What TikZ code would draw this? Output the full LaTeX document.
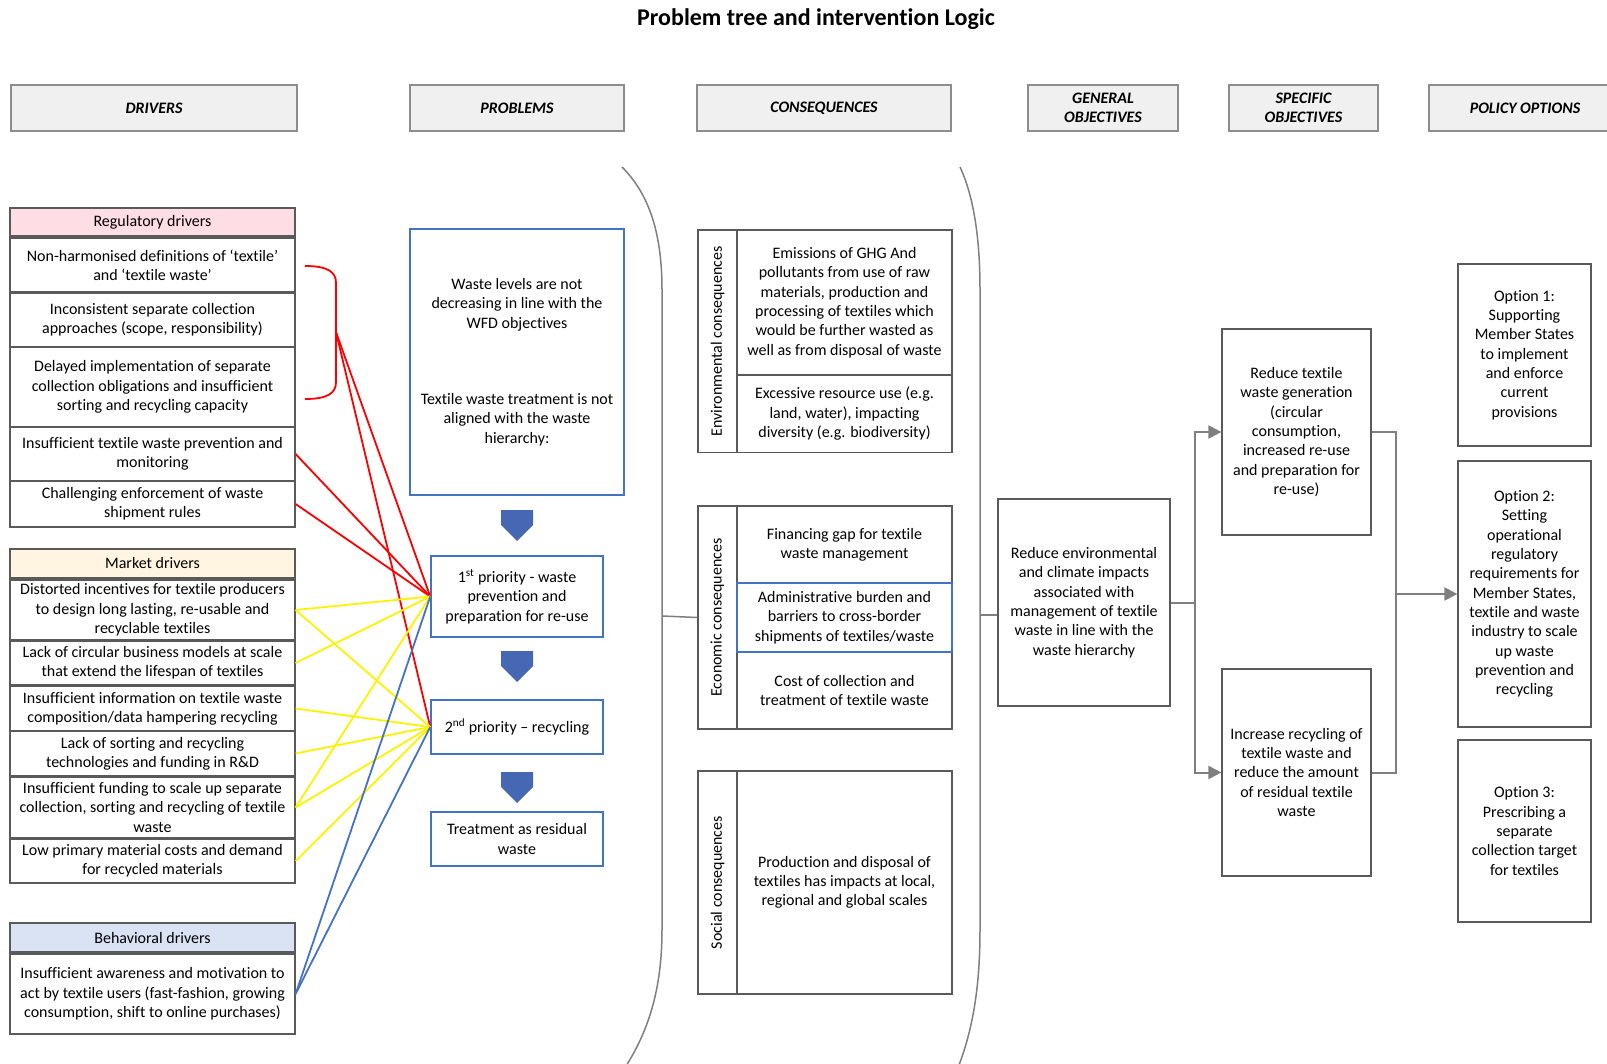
\documentclass[tikz,border=0pt]{standalone}
\usepackage{fontspec}
\setmainfont{Carlito}[Ligatures=NoCommon]
\usepackage{tikz}
\usetikzlibrary{arrows.meta}
\definecolor{hdrgray}{RGB}{240, 240, 240}
\definecolor{edgegray}{RGB}{140, 140, 140}
\definecolor{boxedge}{RGB}{90, 90, 90}
\definecolor{regpink}{RGB}{255, 221, 228}
\definecolor{mktcream}{RGB}{255, 245, 225}
\definecolor{behblue}{RGB}{218, 227, 243}
\definecolor{pblue}{RGB}{68, 114, 196}
\definecolor{darrow}{RGB}{70, 104, 180}
\definecolor{lgray}{RGB}{127, 127, 127}
\newcommand{\txtfont}{\fontsize{16}{19.3}\selectfont}
\tikzset{headline/.style = {font=\fontsize{24}{28}\selectfont\bfseries, inner sep=0}}
\tikzset{hdr/.style = {draw=edgegray, fill=hdrgray, line width=1.5, minimum height=46, inner sep=0,
                       align=center, font=\fontsize{16}{19}\selectfont\bfseries\itshape}}
\tikzset{drv/.style = {draw=boxedge, fill=white, line width=1.2, minimum width=285, inner sep=0,
                       align=center, font=\txtfont}}
\tikzset{prob/.style = {draw=pblue, fill=white, line width=1.5, inner sep=0, align=center, font=\txtfont}}
\tikzset{cons/.style = {draw=boxedge, line width=1.2, minimum width=215, inner sep=0, align=center, font=\txtfont}}
\tikzset{lblbox/.style = {draw=boxedge, line width=1.2, minimum width=39, inner sep=0}}
\tikzset{obj/.style = {draw=boxedge, line width=1.2, inner sep=0, align=center, font=\txtfont}}
\tikzset{redline/.style = {draw=red, line width=1.8}}
\tikzset{yelline/.style = {draw=yellow, line width=1.8}}
\tikzset{bluline/.style = {draw=pblue, line width=1.8}}
\tikzset{arcline/.style = {draw=lgray, line width=1.5}}
\tikzset{objline/.style = {draw=lgray, line width=2}}
\tikzset{objarrow/.style = {objline, -{Triangle[length=13pt, width=13pt]}}}

\begin{document}
\begin{tikzpicture}[x=1pt, y=-1pt]
      \useasboundingbox (0, 0) rectangle (1607, 1064);
      \node [headline] (ttl) at (816, 19) {Problem tree and intervention Logic};

      \node [hdr, minimum width=286] (hdrv) at (154, 108) {DRIVERS};
      \node [hdr, minimum width=214] (hprb) at (517, 108) {PROBLEMS};
      \node [hdr, minimum width=254] (hcon) at (824, 108) {CONSEQUENCES};
      \node [hdr, minimum width=150] (hgen) at (1103, 108) {GENERAL\\OBJECTIVES};
      \node [hdr, minimum width=149] (hspc) at (1303.5, 108) {SPECIFIC\\OBJECTIVES};
      \node [hdr, minimum width=192] (hpol) at (1525, 108) {POLICY OPTIONS};

      \node [drv, fill=regpink, minimum height=28] (regh) at (152.5, 222) {Regulatory drivers};
      \node [drv, minimum height=54] (reg1) at (152.5, 265) {Non-harmonised definitions of ‘textile’\\and ‘textile waste’};
      \node [drv, minimum height=54] (reg2) at (152.5, 320) {Inconsistent separate collection\\approaches (scope, responsibility)};
      \node [drv, minimum height=80] (reg3) at (152.5, 387) {Delayed implementation of separate\\collection obligations and insufficient\\sorting and recycling capacity};
      \node [drv, minimum height=54] (reg4) at (152.5, 454) {Insufficient textile waste prevention and\\monitoring};
      \node [drv, minimum height=46] (reg5) at (152.5, 504) {Challenging enforcement of waste\\shipment rules};

      \node [drv, fill=mktcream, minimum height=29] (mkth) at (152.5, 563.5) {Market drivers};
      \node [drv, minimum height=60] (mkt1) at (152.5, 610) {Distorted incentives for textile producers\\to design long lasting, re-usable and\\recyclable textiles};
      \node [drv, minimum height=44] (mkt2) at (152.5, 663) {Lack of circular business models at scale\\that extend the lifespan of textiles};
      \node [drv, minimum height=45] (mkt3) at (152.5, 708.5) {Insufficient information on textile waste\\composition/data hampering recycling};
      \node [drv, minimum height=45] (mkt4) at (152.5, 753.5) {Lack of sorting and recycling\\technologies and funding in R\&D};
      \node [drv, minimum height=61] (mkt5) at (152.5, 807.5) {Insufficient funding to scale up separate\\collection, sorting and recycling of textile\\waste};
      \node [drv, minimum height=44] (mkt6) at (152.5, 861) {Low primary material costs and demand\\for recycled materials};

      \node [drv, fill=behblue, minimum height=29] (behh) at (152.5, 937.5) {Behavioral drivers};
      \node [drv, minimum height=80] (beh1) at (152.5, 994) {Insufficient awareness and motivation to\\act by textile users (fast-fashion, growing\\consumption, shift to online purchases)};

      \node [prob, minimum width=214, minimum height=266] (pbig) at (517, 362) {Waste levels are not\\decreasing in line with the\\WFD objectives\\[57pt]Textile waste treatment is not\\aligned with the waste\\hierarchy:};
      \fill [darrow] (501, 510) -- (533, 510) -- (533, 525) -- (517, 541) -- (501, 525) -- cycle;
      \node [prob, minimum width=172, minimum height=81] (pr1) at (517, 596.5) {1\textsuperscript{st} priority - waste\\prevention and\\preparation for re-use};
      \fill [darrow] (501, 651) -- (533, 651) -- (533, 666) -- (517, 682) -- (501, 666) -- cycle;
      \node [prob, minimum width=172, minimum height=54] (pr2) at (517, 727) {2\textsuperscript{nd} priority – recycling};
      \fill [darrow] (501, 772) -- (533, 772) -- (533, 787) -- (517, 803) -- (501, 787) -- cycle;
      \node [prob, minimum width=172, minimum height=54] (pr3) at (517, 839) {Treatment as residual\\waste};

      \draw [redline] (305, 266) .. controls (328, 266) and (336, 272) .. (336, 283) -- (336, 382) .. controls (336, 393) and (328, 399) .. (305, 399);
      \coordinate (brk) at (336, 332);
      \draw [redline] (brk) -- (pr1.west);
      \draw [redline] (brk) -- (pr2.west);
      \draw [redline] (reg4.east) -- (pr1.west);
      \draw [redline] (reg5.east) -- (pr1.west);
      \draw [yelline] (mkt1.east) -- (pr1.west);
      \draw [yelline] (mkt1.east) -- (pr2.west);
      \draw [yelline] (mkt2.east) -- (pr1.west);
      \draw [yelline] (mkt3.east) -- (pr2.west);
      \draw [yelline] (mkt4.east) -- (pr2.west);
      \draw [yelline] (mkt5.east) -- (pr1.west);
      \draw [yelline] (mkt5.east) -- (pr2.west);
      \draw [yelline] (mkt6.east) -- (pr2.west);
      \draw [bluline] (beh1.east) -- (pr1.west);
      \draw [bluline] (beh1.east) -- (pr2.west);

      \draw [arcline] (622, 167) .. controls (650, 195) and (662, 235) .. (662, 290) -- (662, 930) .. controls (662, 990) and (648, 1035) .. (620, 1075);
      \draw [arcline] (960, 167) .. controls (973, 195) and (980, 235) .. (980, 290) -- (980, 930) .. controls (980, 990) and (972, 1035) .. (955, 1075);

      \node [lblbox, minimum height=222.5] (envb) at (717.5, 341.25) {};
      \node [rotate=90, font=\txtfont] (envt) at (envb) {Environmental consequences};
      \node [cons, minimum height=145] (env1) at (844.5, 302.5) {Emissions of GHG And\\pollutants from use of raw\\materials, production and\\processing of textiles which\\would be further wasted as\\well as from disposal of waste};
      \node [cons, minimum height=77.5] (env2) at (844.5, 413.75) {Excessive resource use (e.g.\\land, water), impacting\\diversity (e.g. biodiversity)};

      \node [lblbox, minimum height=223] (ecob) at (717.5, 617.5) {};
      \node [rotate=90, font=\txtfont] (ecot) at (ecob) {Economic consequences};
      \node [cons, minimum height=77] (eco1) at (844.5, 544.5) {Financing gap for textile\\waste management};
      \node [cons, minimum height=77] (eco3) at (844.5, 690.5) {Cost of collection and\\treatment of textile waste};
      \node [cons, draw=pblue, minimum height=69] (eco2) at (844.5, 617.5) {Administrative burden and\\barriers to cross-border\\shipments of textiles/waste};

      \node [lblbox, minimum height=223] (socb) at (717.5, 882.5) {};
      \node [rotate=90, font=\txtfont] (soct) at (socb) {Social consequences};
      \node [cons, minimum height=223] (soc1) at (844.5, 882.5) {Production and disposal of\\textiles has impacts at local,\\regional and global scales};

      \coordinate (arca) at (662, 616);
      \draw [arcline] (arca) -- (ecob.west);

      \node [obj, minimum width=172, minimum height=207] (gobj) at (1084, 602.5) {Reduce environmental\\and climate impacts\\associated with\\management of textile\\waste in line with the\\waste hierarchy};
      \coordinate (arcb) at (980, 615);
      \draw [arcline] (arcb) -- (arcb -| gobj.west);

      \node [obj, minimum width=149, minimum height=206] (sobj1) at (1296.5, 432) {Reduce textile\\waste generation\\(circular\\consumption,\\increased re-use\\and preparation for\\re-use)};
      \node [obj, minimum width=149, minimum height=207] (sobj2) at (1296.5, 772.5) {Increase recycling of\\textile waste and\\reduce the amount\\of residual textile\\waste};

      \node [obj, minimum width=133, minimum height=182] (opt1) at (1524.5, 355) {Option 1:\\Supporting\\Member States\\to implement\\and enforce\\current\\provisions};
      \node [obj, minimum width=133, minimum height=266] (opt2) at (1524.5, 594) {Option 2:\\Setting\\operational\\regulatory\\requirements for\\Member States,\\textile and waste\\industry to scale\\up waste\\prevention and\\recycling};
      \node [obj, minimum width=133, minimum height=182] (opt3) at (1524.5, 831) {Option 3:\\Prescribing a\\separate\\collection target\\for textiles};

      \coordinate (fork) at (1195, 602.5);
      \draw [objline] (gobj.east) -- (fork);
      \draw [objarrow] (fork) |- (sobj1.west);
      \draw [objarrow] (fork) |- (sobj2.west);
      \coordinate (join) at (1396, 594);
      \draw [objline] (sobj1.east) -| (join);
      \draw [objline] (sobj2.east) -| (join);
      \draw [objarrow] (join) -- (opt2.west);
    \end{tikzpicture}
\end{document}
